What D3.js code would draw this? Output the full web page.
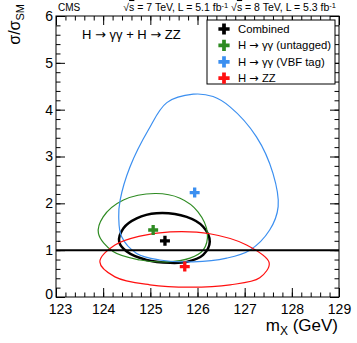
<!DOCTYPE html>
<meta charset="utf-8">
<style>
body { margin: 0; background: #fff; }
text { font-family: "Liberation Sans", Arial, sans-serif; }
.axis path { display: none; }
.axis line { stroke: #000; stroke-width: 1px; }
.axis text { font-size: 14px; fill: #000; }
.arr { font-family: "DejaVu Sans", sans-serif; }
.ovl { text-decoration: overline; }
</style>
<svg width="357" height="343"></svg>
<script src="https://d3js.org/d3.v7.min.js"></script>
<script>

// best fit points (mass in GeV, sigma/sigma_SM)
var names = ["Combined", "H \u2192 \u03b3\u03b3 (untagged)", "H \u2192 \u03b3\u03b3 (VBF tag)", "H \u2192 ZZ"];
var colors = ["#000000", "#2e8b22", "#3b8ff0", "#ff1010"];
var bestMass = [125.31, 125.06, 125.94, 125.73];
var bestMu = [1.20, 1.43, 2.23, 0.65];

// 68% CL contours
var combinedContour = [[125.13,1.79],[125.77,1.71],[126.12,1.50],[126.26,1.18],[126.12,0.90],[125.77,0.75],
  [125.42,0.73],[124.92,0.79],[124.50,0.97],[124.34,1.18],[124.43,1.47],[124.71,1.68]];
var untaggedContour = [[125.10,2.21],[125.63,2.11],[126.01,1.82],[126.21,1.36],[126.12,1.00],[125.84,0.83],
  [125.35,0.75],[124.78,0.79],[124.21,0.97],[123.90,1.36],[124.00,1.71],[124.43,2.07]];
var vbfContour = [[125.91,4.33],[125.35,4.15],[124.96,3.57],[124.57,2.78],[124.36,2.07],[124.33,1.71],
  [124.39,1.29],[124.71,0.93],[125.20,0.79],[125.91,0.75],[126.62,0.83],[127.11,1.00],[127.53,1.43],
  [127.71,1.93],[127.60,2.64],[127.25,3.42],[126.69,4.06],[126.33,4.28]];
var zzContour = [[123.93,0.75],[124.25,1.11],[124.78,1.30],[125.42,1.39],[126.26,1.35],[127.04,1.11],
  [127.52,0.73],[127.32,0.41],[126.69,0.26],[125.84,0.21],[124.99,0.26],[124.25,0.43]];
var contours = [combinedContour, untaggedContour, vbfContour, zzContour];

var xTicks = [123, 124, 125, 126, 127, 128, 129];
var yTicks = [0, 1, 2, 3, 4, 5, 6];

var svg = d3.select("svg");
var fLeft = 56, fRight = 339, fTop = 16, fBottom = 297;

var x = d3.scaleLinear().domain([123, 129]).range([fLeft, fRight]);
var y = d3.scaleLinear().domain([0, 6]).range([fBottom, fTop]);

// frame
svg.append("rect")
    .attr("x", fLeft).attr("y", fTop)
    .attr("width", fRight - fLeft).attr("height", fBottom - fTop)
    .attr("fill", "none").attr("stroke", "#000");

var xMinor = d3.range(0, 31).map(function(i) { return 123 + i * 0.2; });
var yMinor = d3.range(0, 31).map(function(i) { return i * 0.2; });

// bottom + top axes
svg.append("g").attr("class", "axis").attr("transform", "translate(0," + fBottom + ")")
    .call(d3.axisBottom(x).tickValues(xMinor).tickFormat("").tickSize(-4.5));
svg.append("g").attr("class", "axis").attr("transform", "translate(0," + fBottom + ")")
    .call(d3.axisBottom(x).tickValues(xTicks).tickFormat(d3.format("d")).tickSize(-9).tickPadding(7))
  .selectAll("text").attr("dx", function(d) { return d == 123 ? 4 : 0; });
svg.append("g").attr("class", "axis").attr("transform", "translate(0," + fTop + ")")
    .call(d3.axisTop(x).tickValues(xMinor).tickFormat("").tickSize(-4.5));
svg.append("g").attr("class", "axis").attr("transform", "translate(0," + fTop + ")")
    .call(d3.axisTop(x).tickValues(xTicks).tickFormat("").tickSize(-9));

// left + right axes
svg.append("g").attr("class", "axis").attr("transform", "translate(" + fLeft + ",0)")
    .call(d3.axisLeft(y).tickValues(yMinor).tickFormat("").tickSize(-4.5));
svg.append("g").attr("class", "axis").attr("transform", "translate(" + fLeft + ",0)")
    .call(d3.axisLeft(y).tickValues(yTicks).tickFormat(d3.format("d")).tickSize(-9).tickPadding(3))
  .selectAll("text").attr("dy", function(d) { return d == 0 ? "0.1em" : "0.32em"; });
svg.append("g").attr("class", "axis").attr("transform", "translate(" + fRight + ",0)")
    .call(d3.axisRight(y).tickValues(yMinor).tickFormat("").tickSize(-4.5));
svg.append("g").attr("class", "axis").attr("transform", "translate(" + fRight + ",0)")
    .call(d3.axisRight(y).tickValues(yTicks).tickFormat("").tickSize(-9));

// contours
var line = d3.line()
    .x(function(d) { return x(d[0]); })
    .y(function(d) { return y(d[1]); })
    .curve(d3.curveCatmullRomClosed);

svg.append("g").selectAll("path")
    .data(contours)
    .enter().append("path")
      .attr("d", line)
      .attr("fill", "none")
      .attr("stroke", function(d, i) { return colors[i]; })
      .attr("stroke-width", function(d, i) { return i == 0 ? 2.5 : 1.2; });

// SM line
svg.append("line")
    .attr("x1", x(123)).attr("x2", x(129))
    .attr("y1", y(1)).attr("y2", y(1))
    .attr("stroke", "#000").attr("stroke-width", 2);

// best fit markers
var cross = d3.symbol().type(d3.symbolCross).size(55);
svg.append("g").selectAll("path")
    .data(bestMass)
    .enter().append("path")
      .attr("d", cross)
      .attr("transform", function(d, i) { return "translate(" + x(d) + "," + y(bestMu[i]) + ")"; })
      .attr("fill", function(d, i) { return colors[i]; });

// writes a label, putting the arrow glyph in a font that draws it full size
function arrowText(sel, s) {
  s.split("\u2192").forEach(function(part, k) {
    if (k > 0) sel.append("tspan").attr("class", "arr").text("\u2192");
    sel.append("tspan").text(part);
  });
}

// legend
var lg = svg.append("g");
lg.append("rect")
    .attr("x", 207).attr("y", 20).attr("width", 128).attr("height", 64)
    .attr("fill", "#fff").attr("stroke", "#000");
var entry = lg.selectAll("g.entry")
    .data(names)
    .enter().append("g")
      .attr("class", "entry")
      .attr("transform", function(d, i) { return "translate(224," + (29 + i * 16.4) + ")"; });
entry.append("path")
    .attr("d", d3.symbol().type(d3.symbolCross).size(70))
    .attr("fill", function(d, i) { return colors[i]; });
entry.append("text")
    .attr("x", 14).attr("dy", "0.36em")
    .style("font-size", "11.3px")
    .each(function(d) { arrowText(d3.select(this), d); });

// header texts
svg.append("text").attr("x", 58).attr("y", 11).style("font-size", "10px").text("CMS");
var hdr = svg.append("text").attr("x", 336).attr("y", 11).attr("text-anchor", "end").style("font-size", "10.5px");
hdr.append("tspan").text("\u221a");
hdr.append("tspan").attr("class", "ovl").text("s");
hdr.append("tspan").text(" = 7 TeV, L = 5.1 fb");
hdr.append("tspan").attr("dy", -3.5).style("font-size", "7.5px").text("-1");
hdr.append("tspan").attr("dy", 3.5).text("  \u221a");
hdr.append("tspan").attr("class", "ovl").text("s");
hdr.append("tspan").text(" = 8 TeV, L = 5.3 fb");
hdr.append("tspan").attr("dy", -3.5).style("font-size", "7.5px").text("-1");

var ttl = svg.append("text").attr("x", 82).attr("y", 39).style("font-size", "13px");
arrowText(ttl, "H \u2192 \u03b3\u03b3 + H \u2192 ZZ");

// axis titles
var xt = svg.append("text").attr("x", 338).attr("y", 331).attr("text-anchor", "end").style("font-size", "17px");
xt.append("tspan").text("m");
xt.append("tspan").attr("dy", 4).style("font-size", "12px").text("X");
xt.append("tspan").attr("dy", -4).text(" (GeV)");

var yt = svg.append("text").attr("transform", "translate(20,4) rotate(-90)")
    .attr("text-anchor", "end").style("font-size", "16px");
yt.append("tspan").text("\u03c3/\u03c3");
yt.append("tspan").attr("dy", 4).style("font-size", "11px").text("SM");

</script>
